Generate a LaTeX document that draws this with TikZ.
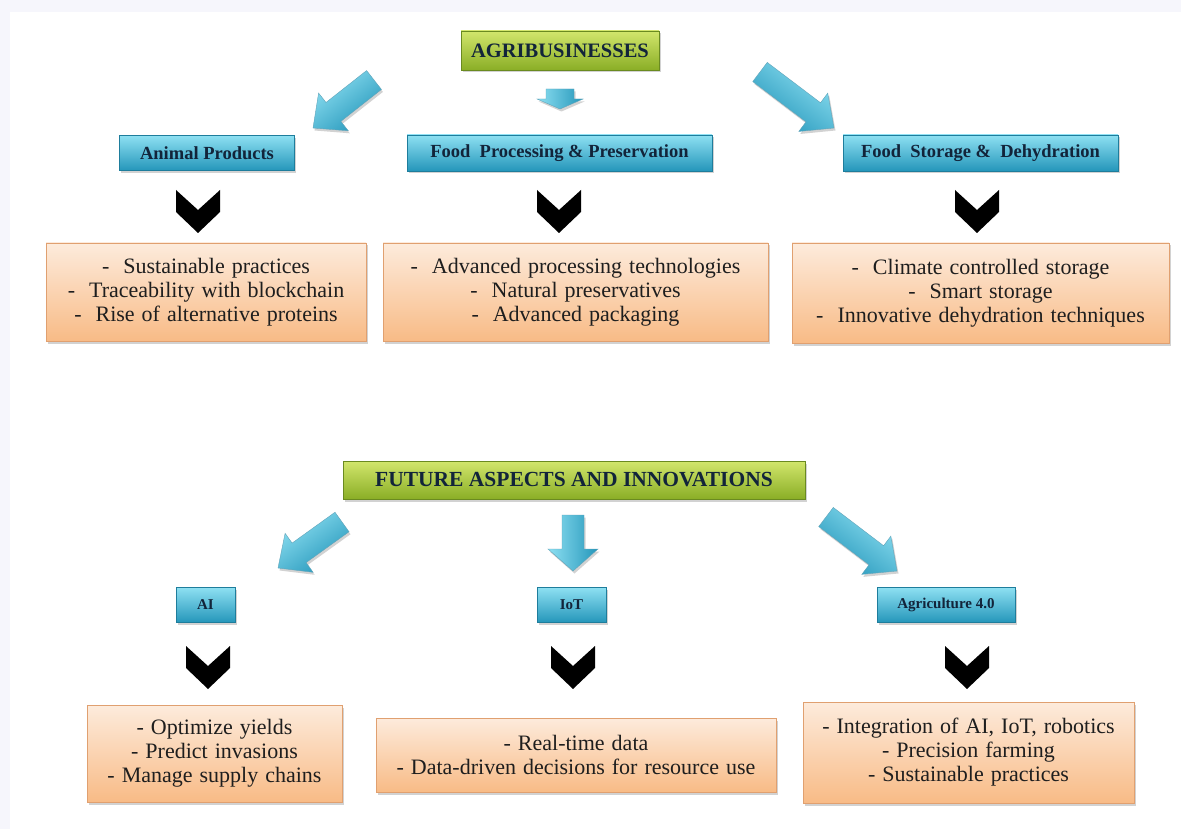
\documentclass[tikz,border=0pt]{standalone}
\usepackage{fontspec}
\setmainfont{Liberation Serif}
\usetikzlibrary{calc,shadows}

\definecolor{bgedge}{HTML}{F6F6FC}
\definecolor{cyanlt}{HTML}{8EE0F2}
\definecolor{cyanmd}{HTML}{45C2E2}
\definecolor{cyandk}{HTML}{2496BA}
\definecolor{cyanln}{HTML}{1E7D9C}
\definecolor{greenlt}{HTML}{D2E66C}
\definecolor{greenmd}{HTML}{B2CE3E}
\definecolor{greendk}{HTML}{8AAE26}
\definecolor{greenln}{HTML}{6A8A20}
\definecolor{peachlt}{HTML}{FDEBDC}
\definecolor{peachmd}{HTML}{FCD3B0}
\definecolor{peachdk}{HTML}{F8BB86}
\definecolor{peachln}{HTML}{E0A070}
\definecolor{navytext}{HTML}{12243A}
\definecolor{listtext}{HTML}{1E1E1E}

\newcommand\widegaps{\spaceskip=7pt plus 2pt\relax}

\tikzset{
  softshadow/.style={drop shadow={opacity=0.35,shadow xshift=1.5pt,shadow yshift=-2.5pt}},
  mainhead/.style={draw=greenln, line width=0.7pt, top color=greenlt, middle color=greenmd,
    bottom color=greendk, softshadow, inner sep=0pt, text=navytext,
    font=\bfseries\fontsize{20.5}{24}\selectfont},
  topic/.style={draw=cyanln, line width=0.7pt, top color=cyanlt, middle color=cyanmd,
    bottom color=cyandk, softshadow, inner sep=0pt, text=navytext,
    font=\bfseries\fontsize{18.5}{22}\selectfont},
  smalltopic/.style={topic, font=\bfseries\fontsize{15}{18}\selectfont},
  listbox/.style={draw=peachln, line width=0.6pt, top color=peachlt, middle color=peachmd,
    bottom color=peachdk, softshadow, inner sep=0pt, align=center, text=listtext,
    font=\fontsize{22}{24}\selectfont\widegaps},
  chevron/.style={fill=black},
  blockfill/.style={draw=cyanln!70, line width=0.4pt, top color=cyanlt, middle color=cyanmd,
    bottom color=cyandk, softshadow},
}

% block arrow from tail #1 to tip #2: shaft half width #3, head half width #4,
% head length #5, shading angle #6
\newcommand\blockarrow[6]{%
  \coordinate (#1-b) at ($(#2)!#5!(#1)$);
  \path[blockfill, shading angle=#6]
    ($(#1)!#3!90:(#2)$) -- ($(#1-b)!#3!90:(#2)$) -- ($(#1-b)!#4!90:(#2)$) -- (#2)
    -- ($(#1-b)!#4!-90:(#2)$) -- ($(#1-b)!#3!-90:(#2)$) -- ($(#1)!#3!-90:(#2)$) -- cycle;
}
% chevron with its top centre at coordinate #1
\newcommand\chevronat[1]{%
  \fill[chevron] ($(#1)+(-22,0)$) -- ($(#1)+(0,20)$) -- ($(#1)+(22,0)$)
    -- ($(#1)+(22,22)$) -- ($(#1)+(0,43)$) -- ($(#1)+(-22,22)$) -- cycle;
}

\begin{document}
\begin{tikzpicture}[x=1pt,y=-1pt]
\useasboundingbox (0,0) rectangle (1181,829);
\fill[bgedge] (0,0) rectangle (1181,829);
\fill[white] (10,12) rectangle (1181,829);

% ---------- Agribusinesses ----------
\node[mainhead, minimum width=198pt, minimum height=39pt] (agri) at (560,50.5) {AGRIBUSINESSES};

\node[topic, minimum width=175pt, minimum height=35pt] (animal) at (207,153) {Animal Products};
\node[topic, minimum width=305pt, minimum height=36pt] (proc) at (559.5,153) {Food\ \ Processing \& Preservation};
\node[topic, minimum width=275pt, minimum height=36pt] (store) at (980.5,153) {Food\ \ Storage \&\ \ Dehydration};

\coordinate (tA1) at (374,80);  \coordinate (hA1) at (313,128);
\coordinate (tA2) at (560,89);  \coordinate (hA2) at (560,109);
\coordinate (tA3) at (760,72);  \coordinate (hA3) at (834,128);
\blockarrow{tA1}{hA1}{12pt}{24pt}{26pt}{38}
\blockarrow{tA2}{hA2}{14pt}{23pt}{10pt}{90}
\blockarrow{tA3}{hA3}{12pt}{24pt}{26pt}{-37}

\coordinate (cA1) at (198,190);
\coordinate (cA2) at (559,190);
\coordinate (cA3) at (977,190);
\chevronat{cA1}\chevronat{cA2}\chevronat{cA3}

\node[listbox, minimum width=320pt, minimum height=98pt] (l1) at (206,292)
  {-\ \ Sustainable practices\\ -\ \ Traceability with blockchain\\ -\ \ Rise of alternative proteins};
\node[listbox, minimum width=385pt, minimum height=98pt] (l2) at (575.5,292)
  {-\ \ Advanced processing technologies\\ -\ \ Natural preservatives\\ -\ \ Advanced packaging};
\node[listbox, minimum width=377pt, minimum height=100pt] (l3) at (980.5,293)
  {-\ \ Climate controlled storage\\ -\ \ Smart storage\\ -\ \ Innovative dehydration techniques};

% ---------- Future aspects ----------
\node[mainhead, minimum width=462pt, minimum height=38pt, font=\bfseries\fontsize{21.5}{24}\selectfont]
  (future) at (574,480) {FUTURE ASPECTS AND INNOVATIONS};

\node[smalltopic, minimum width=59pt, minimum height=35pt] (ai) at (205.5,605) {AI};
\node[smalltopic, minimum width=69pt, minimum height=35pt] (iot) at (571.5,605) {IoT};
\node[smalltopic, minimum width=138pt, minimum height=35pt] (agri4) at (946,605) {Agriculture 4.0};

\coordinate (tB1) at (342,522); \coordinate (hB1) at (278,568);
\coordinate (tB2) at (573,515); \coordinate (hB2) at (573,571);
\coordinate (tB3) at (826,517); \coordinate (hB3) at (897,571);
\blockarrow{tB1}{hB1}{12pt}{24pt}{26pt}{36}
\blockarrow{tB2}{hB2}{11pt}{25pt}{22pt}{90}
\blockarrow{tB3}{hB3}{12pt}{24pt}{26pt}{-37}

\coordinate (cB1) at (208,646);
\coordinate (cB2) at (573,646);
\coordinate (cB3) at (967,646);
\chevronat{cB1}\chevronat{cB2}\chevronat{cB3}

\node[listbox, minimum width=255pt, minimum height=97pt] (m1) at (214.5,753.5)
  {- Optimize yields\\ - Predict invasions\\ - Manage supply chains};
\node[listbox, minimum width=400pt, minimum height=74pt] (m2) at (576,755)
  {- Real-time data\\ - Data-driven decisions for resource use};
\node[listbox, minimum width=331pt, minimum height=101pt] (m3) at (968.5,752.5)
  {- Integration of AI, IoT, robotics\\ - Precision farming\\ - Sustainable practices};
\end{tikzpicture}
\end{document}
